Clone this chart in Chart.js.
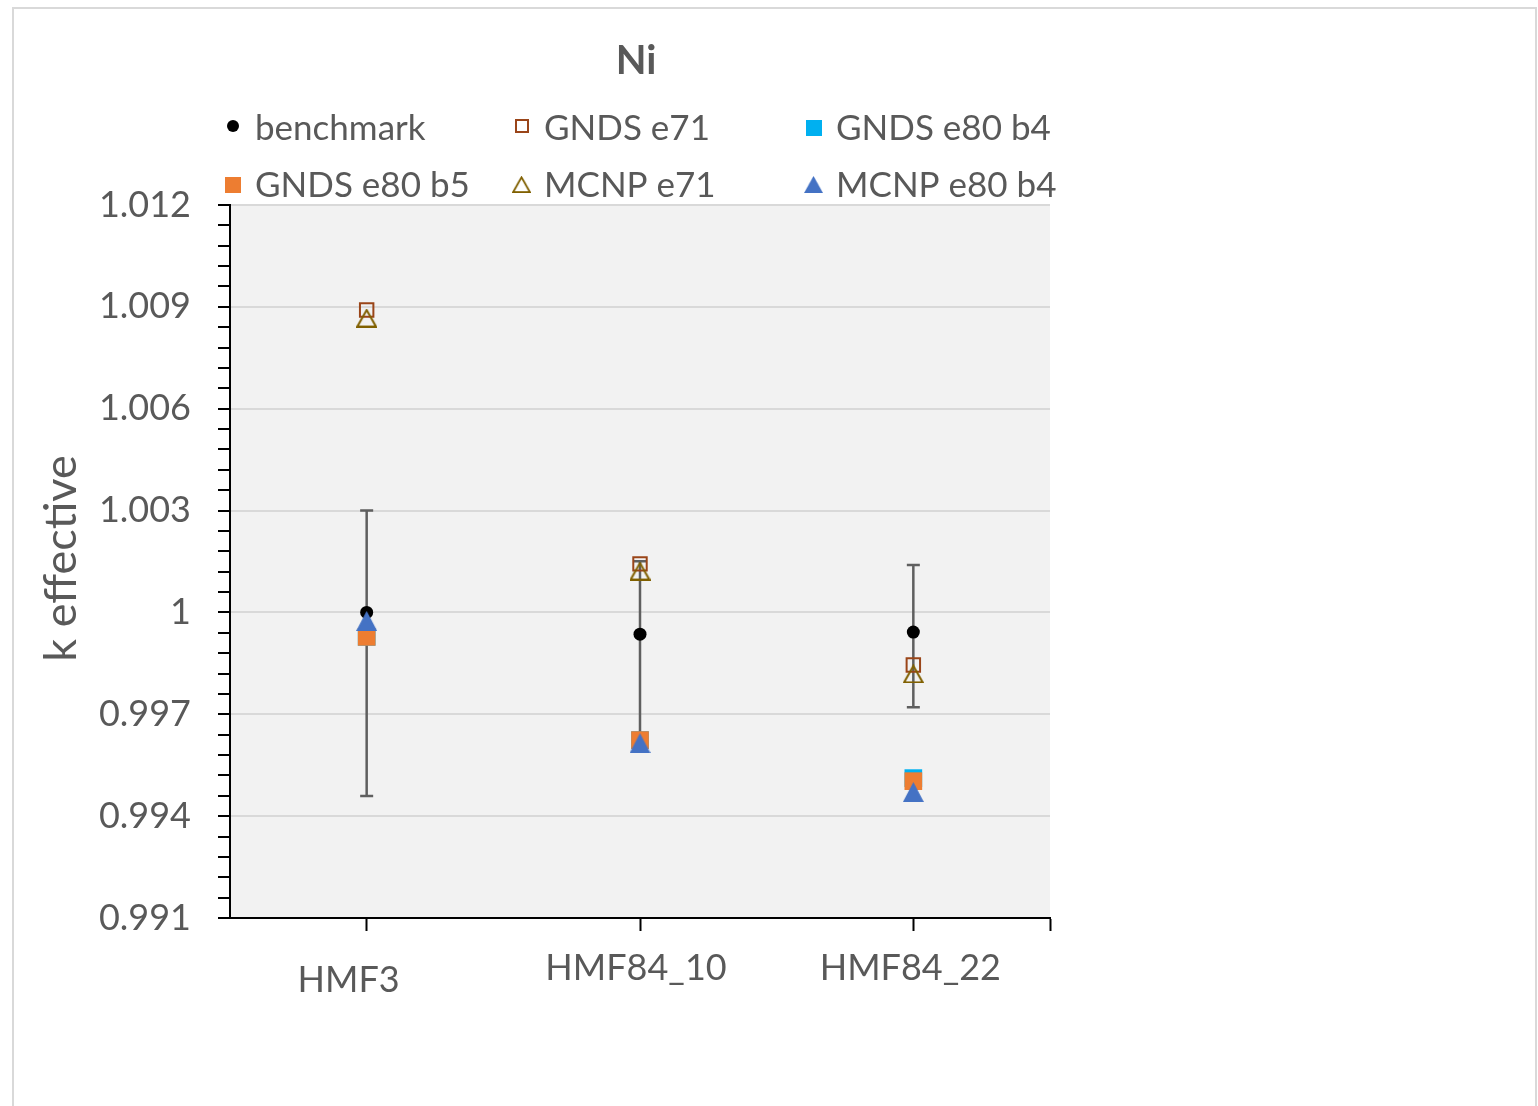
<!DOCTYPE html>
<html>
<head>
<meta charset="utf-8">
<script src="https://cdn.jsdelivr.net/npm/chart.js@4.4.1/dist/chart.umd.min.js"></script>
<style>
  html, body { margin: 0; padding: 0; background: #fff; }
  #wrap { width: 1538px; height: 1106px; position: relative; }
</style>
</head>
<body>
<div id="wrap"><canvas id="chart" width="1538" height="1106"></canvas></div>
<script>
// data
const categories = ['HMF3', 'HMF84_10', 'HMF84_22']
const benchmark = [1.0000, 0.99936, 0.99942]
const benchmarkHigh = [1.0030, 1.00151, 1.00140]
const benchmarkLow = [0.99459, 0.99630, 0.99721]
const gndsE71 = [1.00891, 1.00143, 0.99845]
const gndsE80b4 = [0.99928, 0.99624, 0.99512]
const gndsE80b5 = [0.99928, 0.99624, 0.99503]
const mcnpE71 = [1.00867, 1.00122, 0.99819]
const mcnpE80b4 = [0.99975, 0.99615, 0.99471]

const yMin = 0.991
const yMax = 1.012
const yMajor = 0.003
const yMinor = 0.0006

const FONT = 'Lato, "Open Sans", sans-serif'
const TEXT = '#595959'

function triangleImage(w, h, fill, stroke) {
  let c = document.createElement('canvas')
  c.width = w
  c.height = h
  let ctx = c.getContext('2d')
  ctx.beginPath()
  if (stroke) {
    ctx.moveTo(w / 2, 1.5)
    ctx.lineTo(w - 1.2, h - 1)
    ctx.lineTo(1.2, h - 1)
  } else {
    ctx.moveTo(w / 2, 0)
    ctx.lineTo(w, h)
    ctx.lineTo(0, h)
  }
  ctx.closePath()
  if (fill) {
    ctx.fillStyle = fill
    ctx.fill()
  }
  if (stroke) {
    ctx.strokeStyle = stroke
    ctx.lineWidth = 2
    ctx.stroke()
  }
  return c
}

const openTri = triangleImage(21, 19, null, '#806000')
const blueTri = triangleImage(21, 20, '#4472C4', null)

const xs = [1, 2, 3]
function pts(arr) {
  return arr.map((v, i) => ({ x: xs[i], y: v }))
}

const datasets = [
  { label: 'benchmark', data: pts(benchmark), pointStyle: 'circle', pointRadius: 6.5,
    backgroundColor: '#000', borderColor: '#000', borderWidth: 0 },
  { label: 'GNDS e71', data: pts(gndsE71), pointStyle: 'rect', pointRadius: 9.5,
    backgroundColor: 'rgba(0,0,0,0)', borderColor: '#9a4519', borderWidth: 2 },
  { label: 'GNDS e80 b4', data: pts(gndsE80b4), pointStyle: 'rect', pointRadius: 12.5,
    backgroundColor: '#00B0F0', borderColor: '#00B0F0', borderWidth: 0 },
  { label: 'GNDS e80 b5', data: pts(gndsE80b5), pointStyle: 'rect', pointRadius: 12.5,
    backgroundColor: '#ED7D31', borderColor: '#ED7D31', borderWidth: 0 },
  { label: 'MCNP e71', data: pts(mcnpE71), pointStyle: openTri, pointRadius: 10,
    backgroundColor: '#806000', borderColor: '#806000', borderWidth: 0 },
  { label: 'MCNP e80 b4', data: pts(mcnpE80b4), pointStyle: blueTri, pointRadius: 10,
    backgroundColor: '#4472C4', borderColor: '#4472C4', borderWidth: 0 }
]
// later series sit on top, as in the spreadsheet
datasets.forEach((d, i) => {
  d.showLine = false
  d.pointHoverRadius = d.pointRadius
  d.order = datasets.length - i
})

// background, frame, title, legend, axis title, category labels, error bars
const decor = {
  id: 'decor',
  beforeDraw(chart) {
    let ctx = chart.ctx
    let a = chart.chartArea
    ctx.save()
    ctx.fillStyle = '#fff'
    ctx.fillRect(0, 0, chart.width, chart.height)
    ctx.strokeStyle = '#d9d9d9'
    ctx.lineWidth = 2
    ctx.strokeRect(13, 8, 1523, 1200)
    ctx.fillStyle = '#f2f2f2'
    ctx.fillRect(a.left, a.top, a.right - a.left, a.bottom - a.top)
    ctx.restore()
  },
  beforeDatasetsDraw(chart) {
    let ctx = chart.ctx
    let x = chart.scales.x
    let y = chart.scales.y
    ctx.save()
    ctx.strokeStyle = '#5f5f5f'
    ctx.lineWidth = 2.5
    benchmark.forEach((v, i) => {
      let px = x.getPixelForValue(xs[i])
      let top = y.getPixelForValue(benchmarkHigh[i])
      let bot = y.getPixelForValue(benchmarkLow[i])
      ctx.beginPath()
      ctx.moveTo(px, top)
      ctx.lineTo(px, bot)
      ctx.moveTo(px - 6.5, top)
      ctx.lineTo(px + 6.5, top)
      ctx.moveTo(px - 6.5, bot)
      ctx.lineTo(px + 6.5, bot)
      ctx.stroke()
    })
    ctx.restore()
  },
  afterDraw(chart) {
    let ctx = chart.ctx
    let a = chart.chartArea
    let x = chart.scales.x
    ctx.save()
    ctx.fillStyle = TEXT

    // title
    ctx.font = 'bold 40px ' + FONT
    ctx.textAlign = 'center'
    ctx.textBaseline = 'middle'
    ctx.fillText('Ni', 636, 61)

    // y axis title
    ctx.save()
    ctx.translate(61, (a.top + a.bottom) / 2 - 3)
    ctx.rotate(-Math.PI / 2)
    ctx.font = '45px ' + FONT
    ctx.fillText('k effective', 0, 0)
    ctx.restore()

    // category labels
    const labelShift = [[-18, 62], [-4, 50], [-3, 50]]
    ctx.font = '36px ' + FONT
    categories.forEach((c, i) => {
      ctx.fillText(c, x.getPixelForValue(xs[i]) + labelShift[i][0], a.bottom + labelShift[i][1])
    })

    // legend, two rows of three
    const colX = [233, 522, 814]
    const rowY = [129, 186]
    ctx.textAlign = 'left'
    chart.data.datasets.forEach((d, i) => {
      let cx = colX[i % 3]
      let cy = rowY[Math.floor(i / 3)]
      if (d.pointStyle === 'circle') {
        ctx.fillStyle = d.backgroundColor
        ctx.beginPath()
        ctx.arc(cx, cy - 3, 6, 0, Math.PI * 2)
        ctx.fill()
      } else if (d.pointStyle === 'rect') {
        let s = d.borderWidth ? 12 : 16
        if (d.borderWidth) {
          ctx.strokeStyle = d.borderColor
          ctx.lineWidth = 2
          ctx.strokeRect(cx - s / 2, cy - 3 - s / 2, s, s)
        } else {
          ctx.fillStyle = d.backgroundColor
          ctx.fillRect(cx - s / 2, cy - 1 - s / 2, s, s)
        }
      } else {
        ctx.drawImage(d.pointStyle, cx - 10, cy - 10, 19, 17)
      }
      ctx.fillStyle = TEXT
      ctx.font = '35px ' + FONT
      ctx.fillText(d.label, cx + 22, cy)
    })
    ctx.restore()
  }
}

new Chart(document.getElementById('chart'), {
  type: 'scatter',
  data: { datasets },
  options: {
    responsive: false,
    animation: false,
    events: [],
    layout: { padding: { left: 0, top: 205, right: 488, bottom: 0 } },
    plugins: {
      legend: { display: false },
      title: { display: false },
      tooltip: { enabled: false }
    },
    scales: {
      x: {
        type: 'linear',
        min: 0.5,
        max: 3.5,
        afterBuildTicks: s => { s.ticks = [1, 2, 3, 3.5].map(v => ({ value: v })) },
        afterFit: s => { s.height = 188 },
        ticks: { display: false },
        grid: { drawOnChartArea: false, drawTicks: true, tickLength: 13, tickColor: '#000', tickWidth: 2 },
        border: { color: '#000', width: 2 }
      },
      y: {
        type: 'linear',
        min: yMin,
        max: yMax,
        afterBuildTicks: s => {
          let n = Math.round((yMax - yMin) / yMinor)
          let t = []
          for (let i = 0; i <= n; i++)
            t.push({ value: +(yMin + i * yMinor).toFixed(4) })
          s.ticks = t
        },
        afterFit: s => { s.width = 230 },
        ticks: {
          color: TEXT,
          font: { family: FONT, size: 36 },
          padding: 27,
          autoSkip: false,
          callback: v => {
            let k = (v - yMin) / yMajor
            if (Math.abs(k - Math.round(k)) > 1e-6) return ''
            return Math.abs(v - 1) < 1e-9 ? '1' : v.toFixed(3)
          }
        },
        grid: {
          lineWidth: 2,
          color: c => {
            let k = (c.tick.value - yMin) / yMajor
            return Math.abs(k - Math.round(k)) < 1e-6 ? '#d9d9d9' : 'rgba(0,0,0,0)'
          },
          tickColor: '#000',
          tickWidth: 2,
          tickLength: 12
        },
        border: { color: '#000', width: 2 }
      }
    }
  },
  plugins: [decor]
})
</script>
</body>
</html>
